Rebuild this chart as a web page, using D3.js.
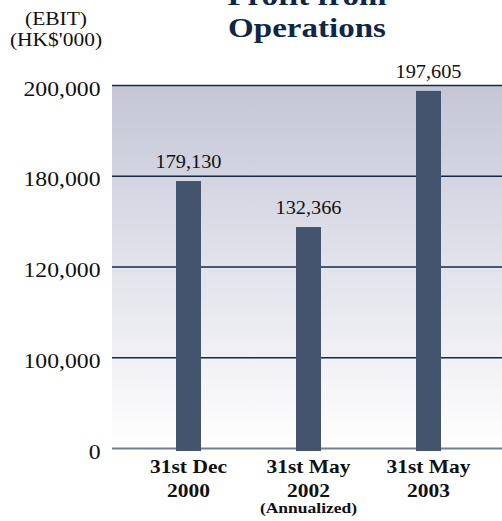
<!DOCTYPE html>
<html>
<head>
<meta charset="utf-8">
<script src="https://cdn.jsdelivr.net/npm/d3@7"></script>
<style>
  html, body { margin: 0; padding: 0; background: #ffffff; }
  svg { display: block; }
  text { font-family: "Liberation Serif", "Times New Roman", serif; }
</style>
</head>
<body>
<div id="chart"></div>
<script>
// ---- data ----
const categories = ["31st Dec 2000", "31st May 2002", "31st May 2003"];
const categoryLines = [["31st Dec", "2000"], ["31st May", "2002", "(Annualized)"], ["31st May", "2003"]];
const valueLabels = [179130, 132366, 197605];
// bar heights as read against the (unevenly labelled) value axis
const barLevels = [176500, 146100, 198700];
const tickValues = [0, 100000, 120000, 180000, 200000];
const titleLines = ["Profit from", "Operations"];
const unitLines = ["(EBIT)", "(HK$'000)"];

// ---- layout ----
const W = 502, H = 521;
const plot = { left: 112, right: 502, top: 85, bottom: 448 };
const SX = 1.13; // horizontal stretch of the reference's lettering

const svg = d3.select("#chart").append("svg").attr("width", W).attr("height", H);

const defs = svg.append("defs");
const grad = defs.append("linearGradient").attr("id", "bg").attr("x1", 0).attr("y1", 0).attr("x2", 0).attr("y2", 1);
grad.append("stop").attr("offset", "0%").attr("stop-color", "#c4c6d6");
grad.append("stop").attr("offset", "100%").attr("stop-color", "#ffffff");

// y: evenly spaced tick labels, piecewise-linear in between
const tickPos = d3.scalePoint().domain(tickValues).range([plot.bottom, plot.top]);
const y = d3.scaleLinear().domain(tickValues).range(tickValues.map(v => tickPos(v)));

const x = d3.scaleBand().domain(categories).range([128.5, 488.5])
  .paddingInner(95 / 120).paddingOuter(47.5 / 120);

// plot background
svg.append("rect")
  .attr("x", plot.left).attr("y", plot.top)
  .attr("width", plot.right - plot.left).attr("height", plot.bottom - plot.top)
  .attr("fill", "url(#bg)");

// axis + gridlines
const yAxis = d3.axisLeft(y).tickValues(tickValues).tickFormat(d3.format(","))
  .tickSize(-(plot.right - plot.left));
const gAxis = svg.append("g").attr("transform", `translate(${plot.left},0)`).call(yAxis);
gAxis.select(".domain").remove();
gAxis.selectAll(".tick line")
  .attr("stroke", d => d === 0 ? "#6e7f9e" : "#14284a")
  .attr("stroke-width", d => d === 0 ? 2 : 1.5);
gAxis.selectAll(".tick text")
  .attr("x", -11.5 / SX).attr("dy", null).attr("y", 10)
  .attr("transform", `scale(${SX},1)`)
  .attr("fill", "#111").style("font-size", "21px")
  .style("font-family", "'Liberation Serif', 'Times New Roman', serif");

// bars
svg.append("g").selectAll("rect").data(categories).join("rect")
  .attr("x", d => x(d))
  .attr("width", x.bandwidth())
  .attr("y", (d, i) => y(barLevels[i]))
  .attr("height", (d, i) => y(0) - y(barLevels[i]) + 3)
  .attr("fill", "#44546f");

// value labels
const fmt = d3.format(",");
svg.append("g").selectAll("g").data(categories).join("g")
  .attr("transform", (d, i) => `translate(${x(d) + x.bandwidth() / 2},${y(barLevels[i]) - 13})`)
  .append("text")
  .attr("transform", `scale(${SX},1)`)
  .attr("text-anchor", "middle")
  .attr("fill", "#111")
  .style("font-size", "18px")
  .text((d, i) => fmt(valueLabels[i]));

// category labels
const catG = svg.append("g").selectAll("g").data(categories).join("g")
  .attr("transform", d => `translate(${x(d) + x.bandwidth() / 2},0)`);
catG.each(function (d, i) {
  const g = d3.select(this);
  const lines = categoryLines[i];
  const baselines = [472.5, 496.5, 513];
  const sizes = [19, 19, 15.5];
  lines.forEach((t, j) => {
    g.append("text")
      .attr("transform", `translate(0,${baselines[j]}) scale(${SX},1)`)
      .attr("text-anchor", "middle")
      .attr("font-weight", "bold")
      .attr("fill", "#111")
      .style("font-size", sizes[j] + "px")
      .text(t);
  });
});

// title
const titleBase = [5, 37];
titleLines.forEach((t, j) => {
  svg.append("text")
    .attr("transform", `translate(307,${titleBase[j]}) scale(1.18,1)`)
    .attr("text-anchor", "middle")
    .attr("font-weight", "bold")
    .attr("fill", "#0e2749")
    .style("font-size", "28px")
    .text(t);
});

// unit label
const unitBase = [25, 45.5];
unitLines.forEach((t, j) => {
  svg.append("text")
    .attr("transform", `translate(56,${unitBase[j]}) scale(${SX},1)`)
    .attr("text-anchor", "middle")
    .attr("fill", "#111")
    .style("font-size", "19px")
    .text(t);
});
</script>
</body>
</html>
